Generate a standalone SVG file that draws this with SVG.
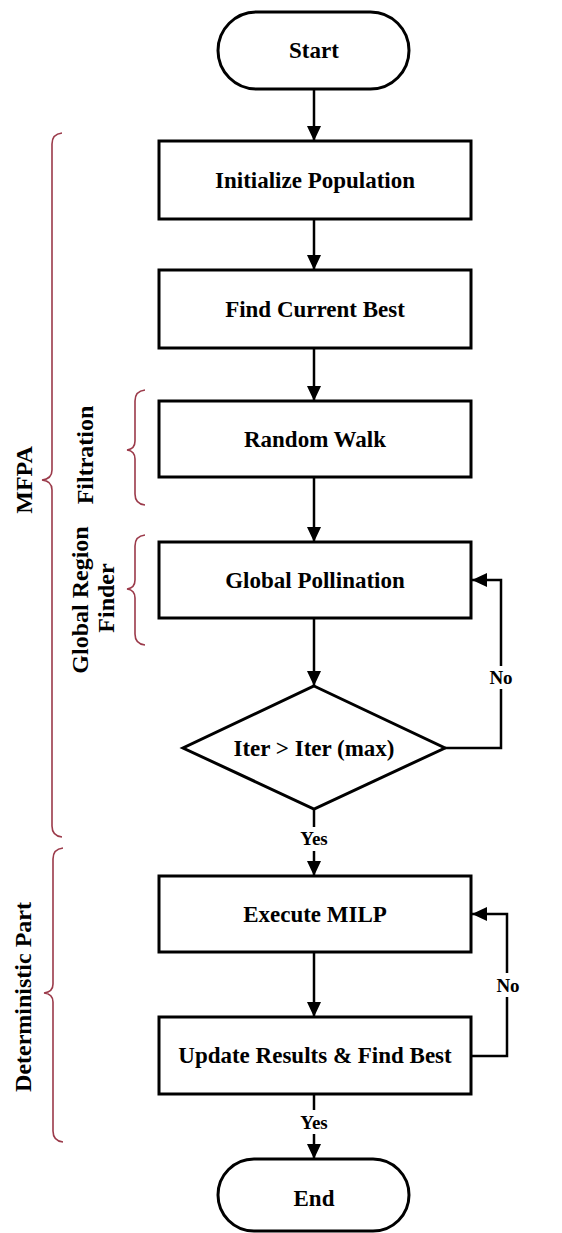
<svg xmlns="http://www.w3.org/2000/svg" width="562" height="1233" viewBox="0 0 562 1233">
<defs>
<marker id="arr" markerUnits="userSpaceOnUse" markerWidth="16" markerHeight="16" viewBox="0 0 16 16" refX="15" refY="8" orient="auto">
<path d="M0,1 L15,8 L0,15 Z" fill="#000"/>
</marker>
</defs>
<style>
.box{fill:#fff;stroke:#000;stroke-width:3}
.lbl{font-family:"Liberation Serif","Times New Roman",serif;font-weight:bold;font-size:23px;text-anchor:middle;fill:#000}
.sm{font-family:"Liberation Serif","Times New Roman",serif;font-weight:bold;font-size:19px;text-anchor:middle;fill:#000}
.side{font-family:"Liberation Serif","Times New Roman",serif;font-weight:bold;font-size:24px;text-anchor:middle;fill:#000}
.con{fill:none;stroke:#000;stroke-width:2.5}
.brace{fill:none;stroke:#9b3a4a;stroke-width:1.6}
</style>
<rect width="562" height="1233" fill="#fff"/>

<g id="connectors">
<path class="con" d="M314,89 V141" marker-end="url(#arr)"/>
<path class="con" d="M314,219 V270" marker-end="url(#arr)"/>
<path class="con" d="M314,348 V401" marker-end="url(#arr)"/>
<path class="con" d="M314,477 V542" marker-end="url(#arr)"/>
<path class="con" d="M314,618 V686" marker-end="url(#arr)"/>
<path class="con" d="M314,809 V827"/>
<path class="con" d="M314,851 V876" marker-end="url(#arr)"/>
<path class="con" d="M445,748 H501 V689"/>
<path class="con" d="M501,666 V580 H472" marker-end="url(#arr)"/>
<path class="con" d="M314,952 V1017" marker-end="url(#arr)"/>
<path class="con" d="M471,1056 H507 V997"/>
<path class="con" d="M507,973 V914 H472" marker-end="url(#arr)"/>
<path class="con" d="M314,1094 V1110"/>
<path class="con" d="M314,1134 V1159" marker-end="url(#arr)"/>
<text class="sm" x="314" y="845">Yes</text>
<text class="sm" x="501" y="684">No</text>
<text class="sm" x="508" y="992">No</text>
<text class="sm" x="314" y="1129">Yes</text>
</g>

<g id="start">
<rect class="box" x="218" y="12" width="191" height="77" rx="38.5"/>
<text class="lbl" x="314" y="58">Start</text>
</g>
<g id="init">
<rect class="box" x="159" y="141" width="312" height="78"/>
<text class="lbl" x="315" y="188">Initialize Population</text>
</g>
<g id="findbest">
<rect class="box" x="159" y="270" width="312" height="78"/>
<text class="lbl" x="315" y="317">Find Current Best</text>
</g>
<g id="randomwalk">
<rect class="box" x="159" y="401" width="312" height="76"/>
<text class="lbl" x="315" y="447">Random Walk</text>
</g>
<g id="globalpoll">
<rect class="box" x="159" y="542" width="312" height="76"/>
<text class="lbl" x="315" y="588">Global Pollination</text>
</g>
<g id="decision">
<polygon class="box" points="314,686 445,748 314,809 183,748"/>
<text class="lbl" x="314" y="756">Iter &gt; Iter (max)</text>
</g>
<g id="milp">
<rect class="box" x="159" y="876" width="312" height="76"/>
<text class="lbl" x="315" y="922">Execute MILP</text>
</g>
<g id="update">
<rect class="box" x="159" y="1017" width="312" height="77"/>
<text class="lbl" x="315" y="1063">Update Results &amp; Find Best</text>
</g>
<g id="end">
<rect class="box" x="218" y="1159" width="191" height="72" rx="36"/>
<text class="lbl" x="314" y="1206">End</text>
</g>

<g id="mfpa">
<path class="brace" d="M62,133 Q52,134 52,144 V470 Q52,479 42,480 Q52,481 52,490 V826 Q52,836 62,837"/>
<text class="side" transform="translate(32,480) rotate(-90)">MFPA</text>
</g>
<g id="filtration">
<path class="brace" d="M145,390 Q135,391 135,401 V441 Q135,449 127,450 Q135,451 135,459 V494 Q135,504 145,505"/>
<text class="side" transform="translate(93,455) rotate(-90)">Filtration</text>
</g>
<g id="globalregion">
<path class="brace" d="M145,535 Q135,536 135,546 V580 Q135,588 127,589 Q135,590 135,598 V634 Q135,644 145,645"/>
<text class="side" transform="translate(88,600) rotate(-90)">Global Region</text>
<text class="side" transform="translate(114,598) rotate(-90)">Finder</text>
</g>
<g id="deterministic">
<path class="brace" d="M63,848 Q53,849 53,859 V984 Q53,992 44,993 Q53,994 53,1002 V1131 Q53,1141 63,1142"/>
<text class="side" transform="translate(31,997) rotate(-90)">Deterministic Part</text>
</g>
</svg>
